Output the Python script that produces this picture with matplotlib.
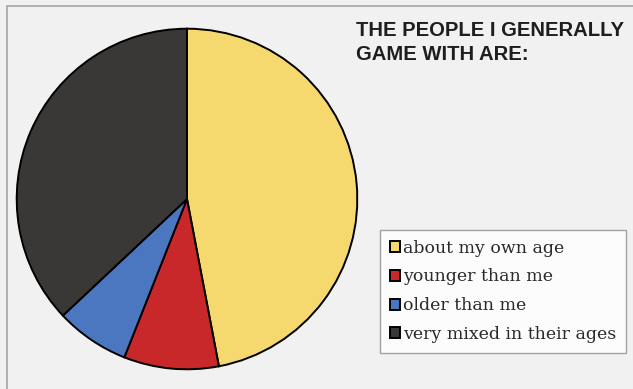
import matplotlib.pyplot as plt
from matplotlib.patches import Rectangle

# ==========================================================
# DADOS
# ==========================================================

categorias = [
    "about my own age",
    "younger than me",
    "older than me",
    "very mixed in their ages",
]

percentuais = [47, 9, 7, 37]

cores = ["#f5d86e", "#c9282a", "#4a77c0", "#3a3737"]

titulo = "THE PEOPLE I GENERALLY\nGAME WITH ARE:"

# ==========================================================
# FIGURA
# ==========================================================

W, H = 633, 389

fig = plt.figure(figsize=(W / 100, H / 100), dpi=100)
fig.patch.set_facecolor("#f1f1f1")

# moldura cinza (só aparece em cima e à esquerda)
fig.add_artist(
    Rectangle(
        (7 / W, -0.1), 1.2, 1 - 6 / H + 0.1,
        transform=fig.transFigure,
        fill=False, edgecolor="#a5a5a5", linewidth=1.2
    )
)

# pizza
cx, cy, r = 187, 199, 172
ax = fig.add_axes([(cx - r) / W, (H - cy - r) / H, 2 * r / W, 2 * r / H])

wedges, _ = ax.pie(
    percentuais,
    colors=cores,
    startangle=90,
    counterclock=False,
    wedgeprops={"edgecolor": "black", "linewidth": 1.4},
)

ax.set_xlim(-1.01, 1.01)
ax.set_ylim(-1.01, 1.01)
ax.set_aspect("auto")
ax.axis("off")

# título
fig.text(
    356 / W, 1 - 21 / H,
    titulo,
    ha="left", va="top",
    fontsize=14.6, fontweight="bold",
    family="Liberation Sans", color="#1e1e1e",
    linespacing=1.32
)

# legenda
leg = fig.legend(
    wedges, categorias,
    loc="upper left",
    bbox_to_anchor=(380 / W, 1 - 230 / H),
    frameon=True, fancybox=False,
    prop={"family": "DejaVu Serif", "size": 12.5},
    handlelength=0.6, handleheight=0.6,
    handletextpad=0.2, labelspacing=0.68,
    borderpad=0.55, borderaxespad=0,
)
leg.get_frame().set_edgecolor("#8c8c8c")
leg.get_frame().set_facecolor("white")
leg.get_frame().set_linewidth(1.0)
for t in leg.get_texts():
    t.set_color("#2a2a2a")

fig.savefig("out.png", dpi=100, facecolor=fig.get_facecolor())
